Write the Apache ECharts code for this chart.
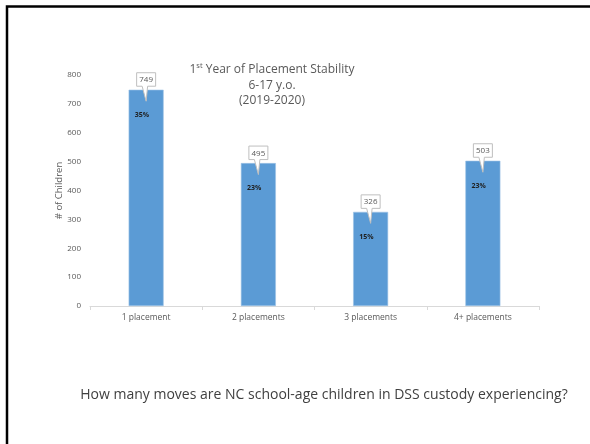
<!DOCTYPE html>
<html>
<head>
<meta charset="utf-8">
<script src="https://cdn.jsdelivr.net/npm/echarts@6/dist/echarts.min.js"></script>
<style>
  html, body { margin: 0; padding: 0; background: #fff; }
  #chart { width: 590px; height: 444px; }
</style>
</head>
<body>
<div id="chart"></div>
<script>
// Placement counts for school-age children, first year in care
const categories = ['1 placement', '2 placements', '3 placements', '4+ placements'];
const children = [749, 495, 326, 503];
const shares = ['35%', '23%', '15%', '23%'];
const yTicks = [0, 100, 200, 300, 400, 500, 600, 700, 800];

const grey = '#595959';
const font = 'Open Sans';
const chart = echarts.init(document.getElementById('chart'), null, { renderer: 'canvas' });

// Callout bubble with a pointer dipping into the bar top
function renderCallout(params, api) {
  const p = api.coord([api.value(0), api.value(1)]);
  const cx = p[0], top = p[1];
  const w = 19, h = 13.5, gap = 3.5;
  const x0 = cx - w / 2, x1 = cx + w / 2;
  const yb = top - gap, yt = yb - h;
  const shape = [
    [x0, yt], [x1, yt], [x1, yb], [cx + 1.5, yb],
    [cx, top + 11.5], [cx - 4, yb], [x0, yb]
  ];
  return {
    type: 'group',
    children: [
      { type: 'polygon', shape: { points: shape },
        style: { fill: '#ffffff', stroke: '#bfbfbf', lineWidth: 1 } },
      { type: 'text',
        style: { text: String(api.value(1)), x: cx, y: yt + h / 2 + 0.5,
                 align: 'center', verticalAlign: 'middle',
                 fill: grey, font: '8px "Open Sans", sans-serif' } }
    ]
  };
}

chart.setOption({
  animation: false,
  backgroundColor: '#ffffff',
  title: [{
    text: '{n|1}{s|st}{n| Year of Placement Stability}\n{n|6-17 y.o.}\n{n|(2019-2020)}',
    left: 267, top: 57, textAlign: 'center',
    textStyle: {
      rich: {
        n: { fontSize: 12, fontWeight: 'normal', color: grey, fontFamily: font, lineHeight: 15.5 },
        s: { fontSize: 7.5, fontWeight: 'normal', color: grey, fontFamily: font, verticalAlign: 'top', lineHeight: 15.5, padding: [0, 0, 6, 0] }
      }
    }
  }, {
    text: 'How many moves are NC school-age children in DSS custody experiencing?',
    left: 319, top: 383, textAlign: 'center',
    textStyle: { fontSize: 14, fontWeight: 'normal', color: '#404040', fontFamily: font }
  }],
  grid: { left: 90, top: 75, width: 449, height: 231 },
  xAxis: {
    type: 'category',
    data: categories,
    axisLine: { lineStyle: { color: '#d9d9d9', width: 1 } },
    axisTick: { show: true, length: 4, lineStyle: { color: '#d9d9d9' } },
    axisLabel: { color: grey, fontSize: 8.5, fontFamily: font, margin: 7 }
  },
  yAxis: {
    type: 'value',
    min: yTicks[0], max: yTicks[yTicks.length - 1], interval: 100,
    name: '# of Children',
    nameLocation: 'middle', nameGap: 26, nameRotate: 90,
    nameMoveOverlap: false,
    nameTextStyle: { color: grey, fontSize: 9.5, fontFamily: font },
    axisLine: { show: false }, axisTick: { show: false },
    splitLine: { show: false },
    axisLabel: { color: grey, fontSize: 8, fontFamily: font, margin: 9 }
  },
  series: [{
    type: 'bar',
    data: children,
    barWidth: 35,
    itemStyle: { color: '#5b9bd5', borderColor: '#9dc3e6', borderWidth: 0.6 },
    label: {
      show: true,
      position: ['38%', 25],
      align: 'center', verticalAlign: 'middle',
      formatter: (p) => shares[p.dataIndex],
      color: '#1f1f1f', fontSize: 7, fontWeight: 'bold', fontFamily: font
    }
  }, {
    type: 'custom',
    data: children.map((v, i) => [i, v]),
    renderItem: renderCallout,
    z: 5
  }],
  graphic: [{
    type: 'polyline',
    shape: { points: [[7, 444], [7, 6.5], [590, 6.5]] },
    style: { stroke: '#000000', lineWidth: 2.5, fill: null }
  }]
});
</script>
</body>
</html>
